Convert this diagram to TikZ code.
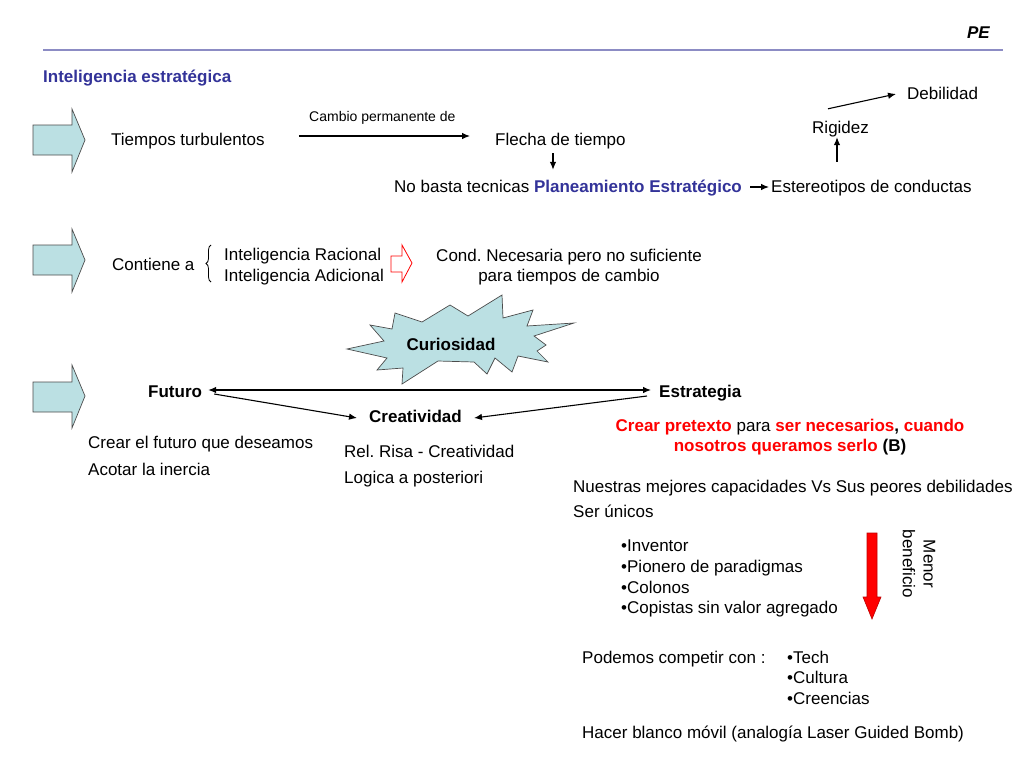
\documentclass[tikz,border=0pt]{standalone}
\usepackage{fontspec}
\setmainfont{Liberation Sans}
\usetikzlibrary{arrows.meta,calc,decorations.pathreplacing}
\definecolor{ablue}{RGB}{187,224,227}
\definecolor{tblue}{RGB}{51,51,153}
\definecolor{rulec}{RGB}{140,140,196}
\definecolor{dred}{RGB}{190,0,0}
\newcommand{\fs}{\fontsize{17}{20.7}\selectfont}
\newcommand{\fsm}{\fontsize{14}{17}\selectfont}
\frenchspacing
\begin{document}
\begin{tikzpicture}[x=1pt,y=-1pt,
  txt/.style={inner sep=0pt, anchor=west, text height=12pt, text depth=4pt, font=\fs},
  ctxt/.style={inner sep=0pt, align=center, font=\fs},
  arr/.style={-{Latex[length=8pt,width=6.5pt]}, line width=1.1pt},
  darr/.style={{Latex[length=8pt,width=6.5pt]}-{Latex[length=8pt,width=6.5pt]}, line width=1.1pt},
  blk/.style={fill=ablue, draw=black!70, line width=0.7pt}]
\useasboundingbox (0,0) rectangle (1024,768);
\fill[white] (0,0) rectangle (1024,768);

% header
\node[inner sep=0pt, anchor=base east, font=\fs\bfseries\itshape] (pe) at (990,38) {PE};
\draw[rulec, line width=1.5pt] (43,50) -- (1003,50);
\node[txt, text=tblue, font=\fs\bfseries] (title) at (43,78) {Inteligencia estratégica};

% block arrows
\draw[blk] (33,125) -- (72,125) -- (72,109) -- (85,140) -- (72,172) -- (72,155) -- (33,155) -- cycle;
\draw[blk] (33,245) -- (72,245) -- (72,229) -- (85,260) -- (72,292) -- (72,275) -- (33,275) -- cycle;
\draw[blk] (33,382) -- (72,382) -- (72,365) -- (85,396) -- (72,428) -- (72,412) -- (33,412) -- cycle;

% row 1
\node[txt] (tt) at (111,141) {Tiempos turbulentos};
\node[inner sep=0pt, anchor=base west, font=\fsm] (cp) at (309,121) {Cambio permanente de};
\node[txt] (fl) at (495,141) {Flecha de tiempo};
\node[txt] (nb) at (394,188) {No basta tecnicas \textcolor{tblue}{\bfseries Planeamiento Estratégico}};
\node[txt] (es) at (771,188) {Estereotipos de conductas};
\node[txt] (rg) at (812,129) {Rigidez};
\node[txt] (db) at (907,95) {Debilidad};

\draw[arr] ($(tt.east)+(34,-5)$) -- ($(fl.west)+(-25,-5)$);
\draw[arr] ($(fl.south west)+(58,4)$) -- ($(nb.north west)+(159,-10)$);
\draw[arr] ($(nb.east)+(8,-1)$) -- ($(es.west)+(-2,-1)$);
\draw[arr] ($(es.north west)+(66,-18)$) -- ($(rg.south west)+(25,0)$);
\draw[arr] ($(rg.north west)+(16,-12)$) -- ($(db.west)+(-11,-1)$);

% row 2
\node[txt] (ct) at (112,266) {Contiene a};
\draw[line width=0.8pt, decorate, decoration={brace, amplitude=5pt}] (211,282) -- (211,245);
\node[txt] (ir) at (224,256) {Inteligencia Racional};
\node[txt] (ia) at (224,277) {Inteligencia Adicional};
\draw[red, fill=white, line width=0.8pt] (391,256) -- (402,256) -- (402,245) -- (412,263) -- (402,282) -- (402,272) -- (391,272) -- cycle;
\node[ctxt] (cn) at (569,267) {Cond. Necesaria pero no suficiente\\para tiempos de cambio};

% curiosidad starburst
\draw[blk] (347,349) -- (384,341) -- (370,325) -- (392,329) -- (395,313) -- (422,322) -- (450,305) -- (468,316) -- (502,295) -- (503,318) -- (533,310) -- (527,326) -- (574,323) -- (534,336) -- (546,345) -- (537,351) -- (548,362) -- (518,356) -- (512,372) -- (495,358) -- (487,374) -- (474,362) -- (438,361) -- (402,384) -- (403,368) -- (377,370) -- (387,358) -- cycle;
\node[inner sep=0pt, font=\fs\bfseries] (cu) at (451,344) {Curiosidad};

% row 3
\node[txt, font=\fs\bfseries] (fu) at (148,393) {Futuro};
\node[txt, font=\fs\bfseries] (st) at (659,393) {Estrategia};
\node[txt, font=\fs\bfseries] (cr) at (369,418) {Creatividad};
\draw[darr] ($(fu.east)+(6,-3)$) -- ($(st.west)+(-8,-3)$);
\draw[arr] ($(fu.east)+(12,1)$) -- ($(cr.west)+(-12,0)$);
\draw[arr] ($(st.west)+(-12,3)$) -- ($(cr.east)+(12,0)$);

\node[txt] (c1) at (88,444) {Crear el futuro que deseamos};
\node[txt] (c2) at (88,471) {Acotar la inercia};
\node[txt] (r1) at (344,453) {Rel. Risa - Creatividad};
\node[txt] (r2) at (344,479) {Logica a posteriori};

\node[ctxt, font=\fs\bfseries] (cpx) at (790,437) {\textcolor{red}{Crear pretexto} \textmd{para} \textcolor{red}{ser necesarios}, \textcolor{red}{cuando}\\\textcolor{red}{nosotros queramos serlo} (B)};

\node[txt] (nu) at (573,488) {Nuestras mejores capacidades Vs Sus peores debilidades};
\node[txt] (su) at (573,513) {Ser únicos};

\node[txt] (b1) at (621,547) {•Inventor};
\node[txt] (b2) at (621,568) {•Pionero de paradigmas};
\node[txt] (b3) at (621,589) {•Colonos};
\node[txt] (b4) at (621,609) {•Copistas sin valor agregado};

\draw[fill=red, draw=dred, line width=0.6pt] (867,533) -- (877,533) -- (877,597) -- (881,597) -- (872,619) -- (863,597) -- (867,597) -- cycle;
\node[ctxt, rotate=-90] (mb) at (919,564) {Menor\\beneficio};

\node[txt] (pc) at (582,659) {Podemos competir con :};
\node[txt] (t1) at (787,659) {•Tech};
\node[txt] (t2) at (787,679) {•Cultura};
\node[txt] (t3) at (787,700) {•Creencias};

\node[txt] (hb) at (582,734) {Hacer blanco móvil (analogía Laser Guided Bomb)};
\end{tikzpicture}
\end{document}
